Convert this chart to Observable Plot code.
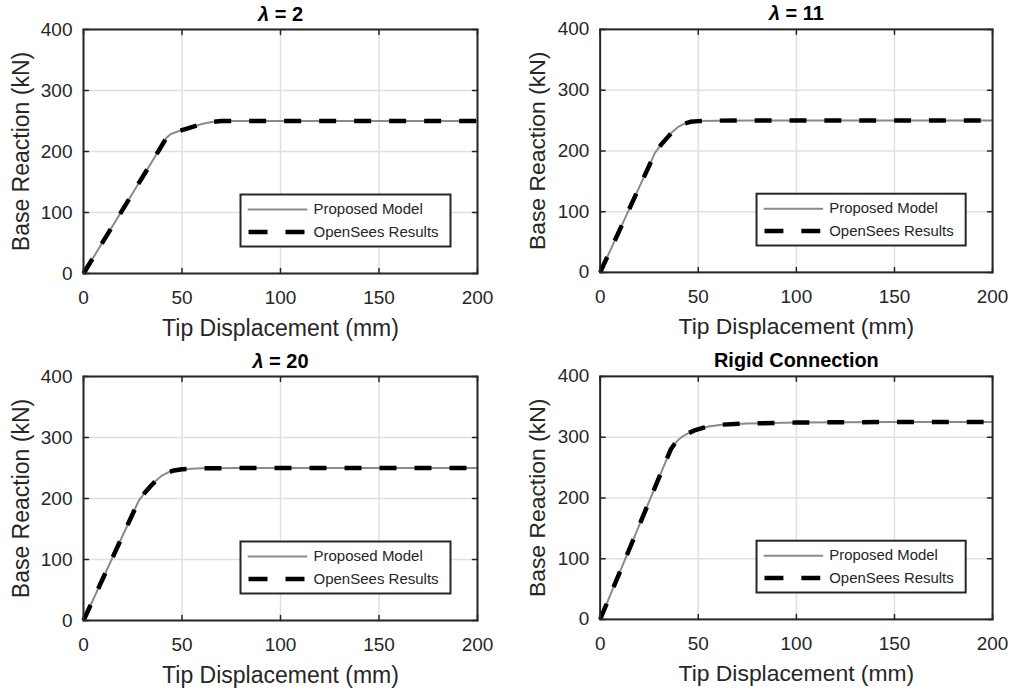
<!DOCTYPE html>
<html><head><meta charset="utf-8">
<script src="https://cdn.jsdelivr.net/npm/d3@7"></script>
<script src="https://cdn.jsdelivr.net/npm/@observablehq/plot@0.6"></script>
<style>
body{margin:0;background:#fff;}
#wrap{position:relative;width:1012px;height:693px;overflow:hidden;background:#fff;}
.panel{position:absolute;}
</style></head><body><div id="wrap"></div>
<script>
// ---- data ----
const titles = ["λ = 2", "λ = 11", "λ = 20", "Rigid Connection"];
const seriesNames = ["Proposed Model", "OpenSees Results"];
const xTicks = [0, 50, 100, 150, 200];
const yTicks = [0, 100, 200, 300, 400];
const xLabel = "Tip Displacement (mm)";
const yLabel = "Base Reaction (kN)";

// λ = 2
const dispA = [0, 40, 42, 44, 47, 50, 55, 60, 65, 70, 200];
const forceA = [0, 211, 222, 228, 232, 235, 240, 245, 248.5, 250, 250];
// λ = 11
const dispB = [0, 28, 31, 34, 37, 40, 43, 46, 50, 60, 80, 200];
const forceB = [0, 197, 210, 221, 232, 240, 245, 247.8, 249, 249.8, 250, 250];
// λ = 20
const dispC = [0, 28, 31, 34, 37, 40, 43, 46, 50, 60, 80, 200];
const forceC = [0, 196, 209, 220, 230, 238, 243, 246, 248, 249.5, 250, 250];
// Rigid connection
const dispD = [0, 36, 38, 40, 42, 44, 48, 52, 56, 62, 75, 100, 150, 200];
const forceD = [0, 280, 289, 296, 301, 305, 311, 315, 318, 320.5, 322.5, 324, 325, 325];

const panels = [
  {title: titles[0], disp: dispA, force: forceA, left: 0, top: 0},
  {title: titles[1], disp: dispB, force: forceB, left: 517, top: 0},
  {title: titles[2], disp: dispC, force: forceC, left: 0, top: 347},
  {title: titles[3], disp: dispD, force: forceD, left: 517, top: 347}
];

const ink = "#262626";
const tickShape = {draw(ctx, l) { ctx.moveTo(0, 0); ctx.lineTo(0, -l); }};

function makePanel(p) {
  const rows = p.disp.map((d, i) => ({x: d, y: p.force[i]}));
  const chart = Plot.plot({
    width: 497, height: 346,
    marginLeft: 83, marginRight: 20, marginTop: 29, marginBottom: 73,
    style: {fontFamily: "'Liberation Sans', Arial, sans-serif", color: ink, background: "transparent", overflow: "visible"},
    x: {domain: [0, 200]},
    y: {domain: [0, 400]},
    marks: [
      Plot.gridX(xTicks, {stroke: "#e0e0e0", strokeOpacity: 1, strokeWidth: 1.5}),
      Plot.gridY(yTicks, {stroke: "#e0e0e0", strokeOpacity: 1, strokeWidth: 1.5}),
      Plot.line(rows, {x: "x", y: "y", stroke: "#8a8a8a", strokeWidth: 2, curve: "linear"}),
      Plot.line(rows, {x: "x", y: "y", stroke: "#000", strokeWidth: 4.5, strokeDasharray: "17,18", strokeLinecap: "butt", strokeLinejoin: "round", curve: "linear"}),
      Plot.frame({stroke: ink, strokeWidth: 2}),
      // inward tick marks on all four sides
      Plot.vector(xTicks, {x: d => d, frameAnchor: "bottom", length: 5, rotate: 0, anchor: "start", shape: tickShape, stroke: ink, strokeWidth: 1.5}),
      Plot.vector(xTicks, {x: d => d, frameAnchor: "top", length: 5, rotate: 180, anchor: "start", shape: tickShape, stroke: ink, strokeWidth: 1.5}),
      Plot.vector(yTicks, {y: d => d, frameAnchor: "left", length: 5, rotate: 90, anchor: "start", shape: tickShape, stroke: ink, strokeWidth: 1.5}),
      Plot.vector(yTicks, {y: d => d, frameAnchor: "right", length: 5, rotate: -90, anchor: "start", shape: tickShape, stroke: ink, strokeWidth: 1.5}),
      Plot.axisX({ticks: xTicks, tickSize: 0, tickPadding: 17, fontSize: 19, label: null}),
      Plot.axisY({ticks: yTicks, tickSize: 0, tickPadding: 11, fontSize: 19, label: null}),
      Plot.text([xLabel], {frameAnchor: "bottom", dy: 62, lineAnchor: "bottom", textAnchor: "middle", fontSize: 23, fill: ink}),
      Plot.text([yLabel], {frameAnchor: "left", dx: -55, rotate: -90, lineAnchor: "bottom", textAnchor: "middle", fontSize: 23, fill: ink}),
      Plot.text([p.title], {frameAnchor: "top", dy: -9, lineAnchor: "bottom", textAnchor: "middle", fontSize: 20, fontWeight: "bold", fill: "#000"}),
      // legend
      Plot.frame({insetLeft: 157, insetRight: 27, insetTop: 165, insetBottom: 27, fill: "#fff", stroke: ink, strokeWidth: 2}),
      Plot.vector([seriesNames[0]], {frameAnchor: "bottom-right", dx: -229, dy: -64, length: 58, rotate: 90, anchor: "start", shape: tickShape, stroke: "#8a8a8a", strokeWidth: 2}),
      Plot.vector([seriesNames[1]], {frameAnchor: "bottom-right", dx: -229, dy: -41.5, length: 58, rotate: 90, anchor: "start", shape: tickShape, stroke: "#000", strokeWidth: 4.5, strokeDasharray: "19,18", strokeLinecap: "butt"}),
      Plot.text([seriesNames[0]], {frameAnchor: "bottom-right", dx: -164, dy: -64, textAnchor: "start", lineAnchor: "middle", fontSize: 15, fill: ink}),
      Plot.text([seriesNames[1]], {frameAnchor: "bottom-right", dx: -164, dy: -41.5, textAnchor: "start", lineAnchor: "middle", fontSize: 15, fill: ink})
    ]
  });
  // italic lambda in titles
  d3.select(chart).selectAll("text").each(function() {
    const t = this.textContent;
    if (t.startsWith("λ") && this.childNodes.length === 1 && this.firstChild.nodeType === 3) {
      const el = d3.select(this);
      el.text("");
      el.append("tspan").attr("font-style", "italic").text("λ");
      el.append("tspan").text(t.slice(1));
    }
  });
  const div = document.createElement("div");
  div.className = "panel";
  div.style.left = p.left + "px";
  div.style.top = p.top + "px";
  div.appendChild(chart);
  document.getElementById("wrap").appendChild(div);
}
panels.forEach(makePanel);
</script></body></html>
